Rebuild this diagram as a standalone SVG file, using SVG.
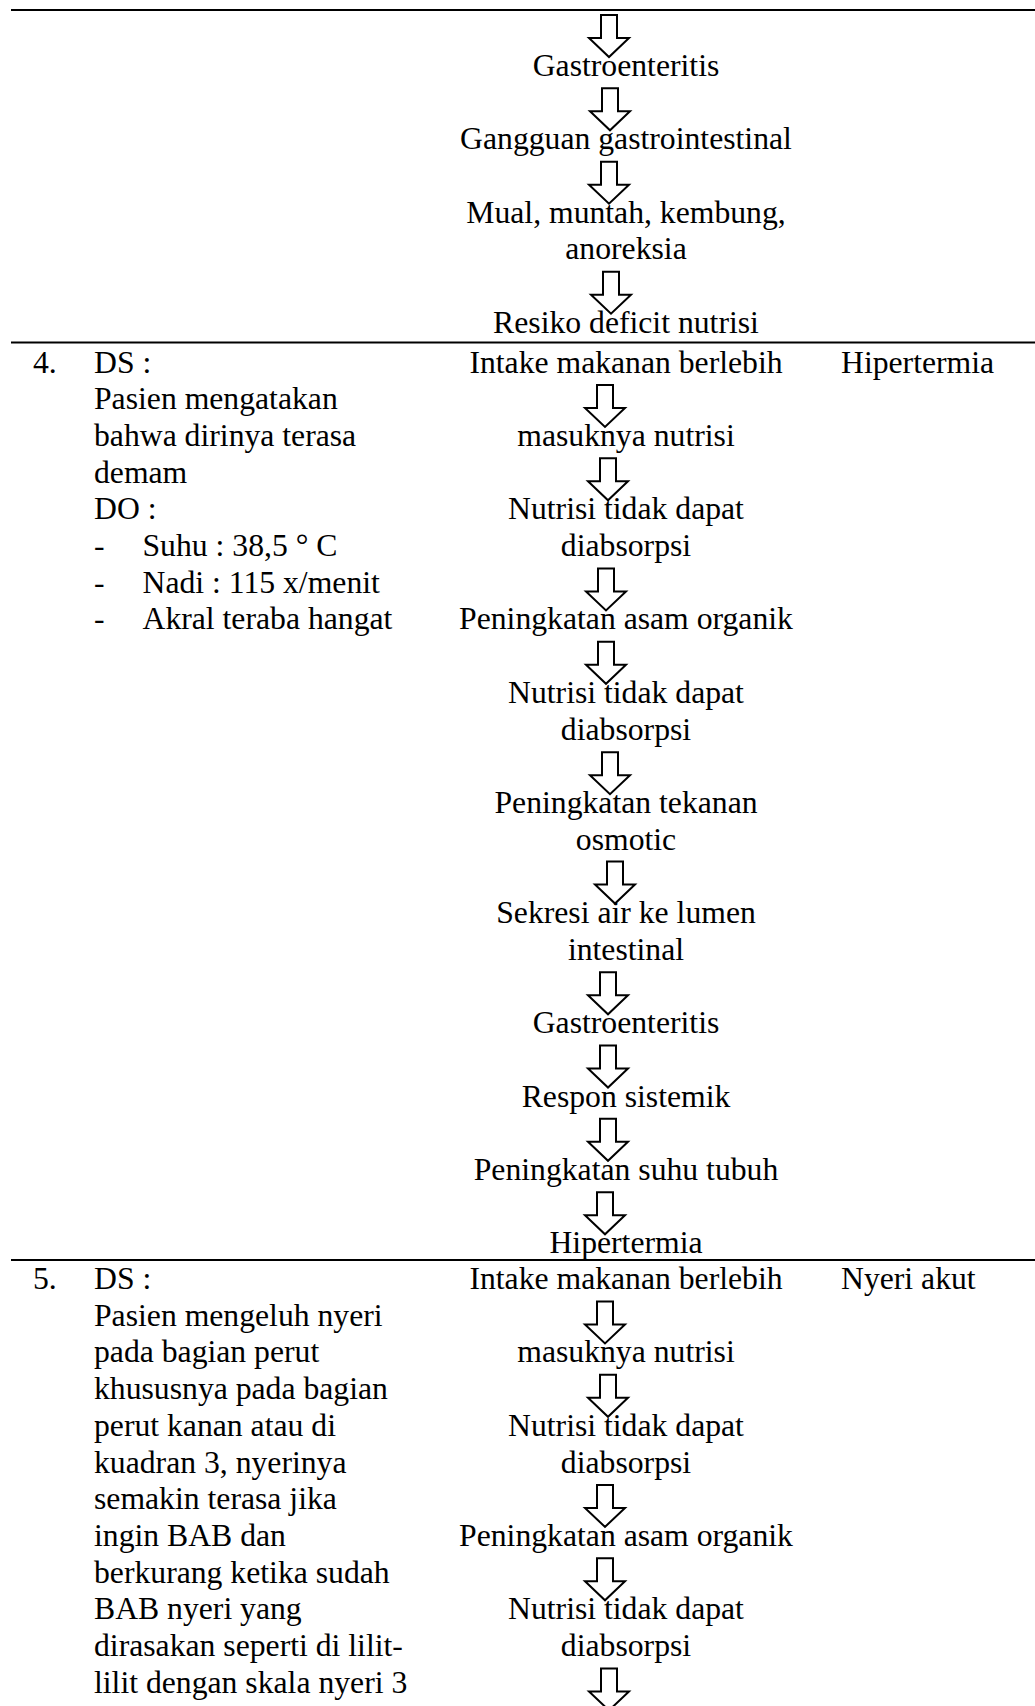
<svg xmlns="http://www.w3.org/2000/svg" xmlns:xlink="http://www.w3.org/1999/xlink" width="1035" height="1706" viewBox="0 0 1035 1706">
<style>
text{font-family:"Liberation Serif","Times New Roman",serif;font-size:31.7px;fill:#000}
.c{text-anchor:middle}
.rule{stroke:#000;stroke-width:2}
.arr{fill:#fff;stroke:#000;stroke-width:2;stroke-linejoin:miter}
</style>
<defs>
<path id="dn" class="arr" d="M-8,0 H8 V23 H20 L0,42 L-20,23 H-8 Z"/>
</defs>
<rect width="1035" height="1706" fill="#fff"/>
<g id="rules">
<line class="rule" x1="11" y1="10" x2="1035" y2="10"/>
<line class="rule" x1="11" y1="342.5" x2="1035" y2="342.5"/>
<line class="rule" x1="11" y1="1260" x2="1035" y2="1260"/>
</g>
<g id="connectors">
<use xlink:href="#dn" x="609" y="15"/>
<use xlink:href="#dn" x="610" y="88.3"/>
<use xlink:href="#dn" x="609" y="161.7"/>
<use xlink:href="#dn" x="611" y="271.7"/>
<use xlink:href="#dn" x="605" y="384.9"/>
<use xlink:href="#dn" x="608" y="458.3"/>
<use xlink:href="#dn" x="606" y="568.4"/>
<use xlink:href="#dn" x="606" y="641.8"/>
<use xlink:href="#dn" x="610" y="752.2"/>
<use xlink:href="#dn" x="615" y="861.6"/>
<use xlink:href="#dn" x="608" y="972.3"/>
<use xlink:href="#dn" x="608" y="1045.6"/>
<use xlink:href="#dn" x="608" y="1118.8"/>
<use xlink:href="#dn" x="605" y="1192.3"/>
<use xlink:href="#dn" x="605" y="1301.4"/>
<use xlink:href="#dn" x="608" y="1374.8"/>
<use xlink:href="#dn" x="605" y="1484.9"/>
<use xlink:href="#dn" x="605" y="1558.3"/>
<use xlink:href="#dn" x="609" y="1668.4"/>
</g>
<g id="n3-gastro1"><text class="c" x="626" y="76">Gastroenteritis</text></g>
<g id="n3-gangguan"><text class="c" x="626" y="149.4">Gangguan gastrointestinal</text></g>
<g id="n3-mual"><text class="c" x="626" y="222.7">Mual, muntah, kembung,</text><text class="c" x="626" y="259.4">anoreksia</text></g>
<g id="n3-resiko"><text class="c" x="626" y="332.7">Resiko deficit nutrisi</text></g>

<g id="r4-no"><text x="33" y="372.5">4.</text></g>
<g id="r4-data">
<text x="94" y="372.5">DS :</text>
<text x="94" y="409.2">Pasien mengatakan</text>
<text x="94" y="445.9">bahwa dirinya terasa</text>
<text x="94" y="482.6">demam</text>
<text x="94" y="519.3">DO :</text>
<text x="94" y="556">-</text><text x="142.5" y="556">Suhu : 38,5 ° C</text>
<text x="94" y="592.7">-</text><text x="142.5" y="592.7">Nadi : 115 x/menit</text>
<text x="94" y="629.4">-</text><text x="142.5" y="629.4">Akral teraba hangat</text>
</g>
<g id="r4-intake"><text class="c" x="626" y="372.5">Intake makanan berlebih</text></g>
<g id="r4-masuk"><text class="c" x="626" y="445.9">masuknya nutrisi</text></g>
<g id="r4-nutrisi1"><text class="c" x="626" y="519.3">Nutrisi tidak dapat</text><text class="c" x="626" y="556">diabsorpsi</text></g>
<g id="r4-asam"><text class="c" x="626" y="629.4">Peningkatan asam organik</text></g>
<g id="r4-nutrisi2"><text class="c" x="626" y="702.8">Nutrisi tidak dapat</text><text class="c" x="626" y="739.5">diabsorpsi</text></g>
<g id="r4-tekanan"><text class="c" x="626" y="812.9">Peningkatan tekanan</text><text class="c" x="626" y="849.6">osmotic</text></g>
<g id="r4-sekresi"><text class="c" x="626" y="923">Sekresi air ke lumen</text><text class="c" x="626" y="959.7">intestinal</text></g>
<g id="r4-gastro"><text class="c" x="626" y="1033.1">Gastroenteritis</text></g>
<g id="r4-respon"><text class="c" x="626" y="1106.5">Respon sistemik</text></g>
<g id="r4-suhu"><text class="c" x="626" y="1179.9">Peningkatan suhu tubuh</text></g>
<g id="r4-hiper"><text class="c" x="626" y="1253.3">Hipertermia</text></g>
<g id="r4-dx"><text x="841" y="372.5">Hipertermia</text></g>

<g id="r5-no"><text x="33" y="1289">5.</text></g>
<g id="r5-data">
<text x="94" y="1289">DS :</text>
<text x="94" y="1325.7">Pasien mengeluh nyeri</text>
<text x="94" y="1362.4">pada bagian perut</text>
<text x="94" y="1399.1">khususnya pada bagian</text>
<text x="94" y="1435.8">perut kanan atau di</text>
<text x="94" y="1472.5">kuadran 3, nyerinya</text>
<text x="94" y="1509.2">semakin terasa jika</text>
<text x="94" y="1545.9">ingin BAB dan</text>
<text x="94" y="1582.6">berkurang ketika sudah</text>
<text x="94" y="1619.3">BAB nyeri yang</text>
<text x="94" y="1656">dirasakan seperti di lilit-</text>
<text x="94" y="1692.7">lilit dengan skala nyeri 3</text>
</g>
<g id="r5-intake"><text class="c" x="626" y="1289">Intake makanan berlebih</text></g>
<g id="r5-masuk"><text class="c" x="626" y="1362.4">masuknya nutrisi</text></g>
<g id="r5-nutrisi1"><text class="c" x="626" y="1435.8">Nutrisi tidak dapat</text><text class="c" x="626" y="1472.5">diabsorpsi</text></g>
<g id="r5-asam"><text class="c" x="626" y="1545.9">Peningkatan asam organik</text></g>
<g id="r5-nutrisi2"><text class="c" x="626" y="1619.3">Nutrisi tidak dapat</text><text class="c" x="626" y="1656">diabsorpsi</text></g>
<g id="r5-dx"><text x="841" y="1289">Nyeri akut</text></g>
</svg>
